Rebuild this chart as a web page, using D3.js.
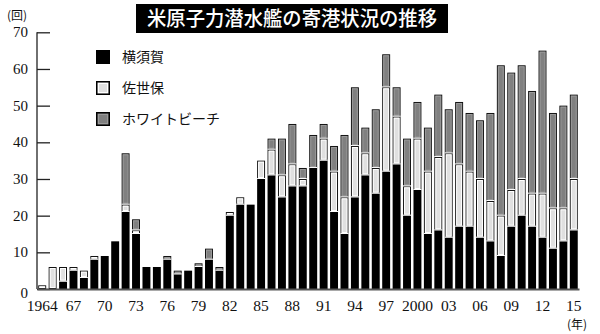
<!DOCTYPE html>
<html>
<head>
<meta charset="utf-8">
<script src="https://cdn.jsdelivr.net/npm/d3@7"></script>
<style>
  html, body { margin: 0; padding: 0; background: #fff; }
  svg { display: block; }
</style>
</head>
<body>
<svg id="chart" width="600" height="334"></svg>
<script>
// Port calls of US nuclear submarines, by year and port
const years = [1964,1965,1966,1967,1968,1969,1970,1971,1972,1973,1974,1975,1976,1977,1978,1979,
  1980,1981,1982,1983,1984,1985,1986,1987,1988,1989,1990,1991,1992,1993,1994,1995,1996,1997,1998,1999,
  2000,2001,2002,2003,2004,2005,2006,2007,2008,2009,2010,2011,2012,2013,2014,2015];
const yokosuka = [0,0,2,5,3,8,9,13,21,15,6,6,8,4,5,6,
  8,5,20,23,23,30,31,25,28,28,33,35,21,15,25,31,26,32,34,20,
  27,15,16,14,17,17,14,13,9,17,20,17,14,11,13,16];
const sasebo = [1,6,4,1,2,1,0,0,2,1,0,0,0,0,0,0,
  0,0,1,2,0,5,7,6,6,2,0,6,11,10,14,6,7,23,13,8,
  14,17,20,23,17,15,16,11,11,10,10,9,12,11,9,14];
const whiteBeach = [0,0,0,0,0,0,0,0,14,3,0,0,1,1,0,1,
  3,1,0,0,0,0,3,10,11,3,9,4,7,17,16,7,16,9,8,13,
  10,12,17,12,17,16,16,24,41,32,31,28,39,26,28,23];

const seriesNames = ["横須賀", "佐世保", "ホワイトビーチ"];
const yTicks = [0,10,20,30,40,50,60,70];
const xTickYears = [1964,1967,1970,1973,1976,1979,1982,1985,1988,1991,1994,1997,2000,2003,2006,2009,2012,2015];
const xTickLabels = ["1964","67","70","73","76","79","82","85","88","91","94","97","2000","03","06","09","12","15"];
const titleText = "米原子力潜水艦の寄港状況の推移";

const svg = d3.select("#chart");
const serif = "'Liberation Serif','DejaVu Serif',serif";
const sans = "'Noto Sans CJK JP','Noto Sans',sans-serif";

const table = years.map((yr, i) => ({ year: yr, y: yokosuka[i], s: sasebo[i], w: whiteBeach[i] }));
const keys = ["y", "s", "w"];
const stacked = d3.stack().keys(keys)(table);

const x = d3.scaleBand().domain(years).range([37, 579]).paddingInner(0.24).paddingOuter(0.12);
const yScale = d3.scaleLinear().domain([0, 70]).range([289, 32.3]);

const fills = { y: "#000000", s: "#e0e0e0", w: "#808080" };

// Bars: one group per series, segments stacked upward
stacked.forEach(layer => {
  const key = layer.key;
  const g = svg.append("g");
  layer.forEach(d => {
    const h = yScale(d[0]) - yScale(d[1]);
    if (h <= 0) return;
    const bx = x(d.data.year), bw = x.bandwidth();
    const top = yScale(d[1]);
    if (key === "y") {
      g.append("rect").attr("x", bx).attr("y", top).attr("width", bw).attr("height", h)
        .attr("fill", fills.y);
    } else {
      // outer dark outline, inner light edge, then fill
      g.append("rect").attr("x", bx + 0.5).attr("y", top + 0.5)
        .attr("width", bw - 1).attr("height", Math.max(h - 1, 0.5))
        .attr("fill", fills[key]).attr("stroke", "#111").attr("stroke-width", 1);
      if (h > 3) {
        g.append("rect").attr("x", bx + 1.5).attr("y", top + 1.5)
          .attr("width", bw - 3).attr("height", h - 3)
          .attr("fill", "none")
          .attr("stroke", key === "s" ? "#ffffff" : "#9a9a9a").attr("stroke-width", 1);
      }
    }
  });
});

// White separators between stacked segments
stacked.slice(1).forEach(layer => {
  layer.forEach(d => {
    if (d[1] - d[0] <= 0 || d[0] === 0) return;
    const bx = x(d.data.year), bw = x.bandwidth();
    svg.append("line").attr("x1", bx).attr("x2", bx + bw)
      .attr("y1", yScale(d[0]) - 0.5).attr("y2", yScale(d[0]) - 0.5)
      .attr("stroke", "#fff").attr("stroke-width", 1);
  });
});

// Y axis: ticks point into the plot
const yAxis = d3.axisRight(yScale).tickValues(yTicks).tickSize(13).tickFormat("");
const yg = svg.append("g").attr("transform", "translate(37,0)").call(yAxis);
yg.select(".domain").attr("stroke", "#222").attr("stroke-width", 1.3).attr("d", `M0,${yScale(70)}V${yScale(0)}`);
yg.selectAll(".tick line").attr("stroke", "#222").attr("stroke-width", 1.3);

svg.append("g").selectAll("text").data(yTicks).join("text")
  .attr("x", 28).attr("y", d => yScale(d) + (d === 0 ? 9 : 5))
  .attr("text-anchor", "end")
  .attr("font-family", serif).attr("font-size", 15).attr("fill", "#111")
  .text(d => d);

// X axis baseline
const xAxis = d3.axisBottom(x).tickValues([]).tickSizeOuter(0);
const xg = svg.append("g").attr("transform", `translate(0,${yScale(0)})`).call(xAxis);
xg.select(".domain").attr("stroke", "#555").attr("stroke-width", 1.8);

svg.append("g").selectAll("text").data(xTickYears).join("text")
  .attr("x", d => x(d) + x.bandwidth() / 2).attr("y", 310.5)
  .attr("text-anchor", "middle")
  .attr("font-family", serif).attr("font-size", 15.5).attr("fill", "#111")
  .text((d, i) => xTickLabels[i]);

// Unit labels
svg.append("text").attr("x", 7).attr("y", 20)
  .attr("font-family", sans).attr("font-size", 12).attr("fill", "#111").text("(回)");
svg.append("text").attr("x", 577).attr("y", 328.5).attr("text-anchor", "middle")
  .attr("font-family", sans).attr("font-size", 12).attr("fill", "#111").text("(年)");

// Title block
svg.append("rect").attr("x", 136).attr("y", 4).attr("width", 312).attr("height", 29).attr("fill", "#000");
svg.append("text").attr("x", 292).attr("y", 26).attr("text-anchor", "middle")
  .attr("font-family", sans).attr("font-size", 20).attr("font-weight", 500)
  .attr("fill", "#fff").attr("textLength", 290).attr("lengthAdjust", "spacingAndGlyphs")
  .text(titleText);

// Legend
const legend = svg.append("g");
const legendY = [50, 81, 112];
keys.forEach((k, i) => {
  const gy = legendY[i];
  if (k === "y") {
    legend.append("rect").attr("x", 96).attr("y", gy).attr("width", 14).attr("height", 14).attr("fill", "#000");
  } else {
    legend.append("rect").attr("x", 96.75).attr("y", gy + 0.75).attr("width", 12.5).attr("height", 12.5)
      .attr("fill", fills[k]).attr("stroke", "#000").attr("stroke-width", 1.5);
    legend.append("rect").attr("x", 98.5).attr("y", gy + 2.5).attr("width", 9).attr("height", 9)
      .attr("fill", "none").attr("stroke", k === "s" ? "#fff" : "#9a9a9a").attr("stroke-width", 1);
  }
  legend.append("text").attr("x", 122).attr("y", gy + 12)
    .attr("font-family", sans).attr("font-size", 14).attr("fill", "#111")
    .text(seriesNames[i]);
});
</script>
</body>
</html>
